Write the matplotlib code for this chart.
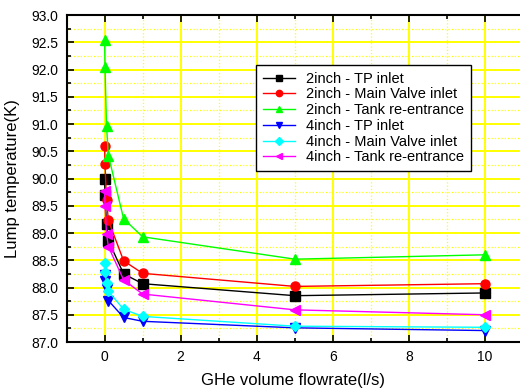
"""Lump temperature vs GHe volume flowrate, six pipe/location series."""

import matplotlib

matplotlib.use("Agg")
import matplotlib.pyplot as plt  # noqa: E402
from matplotlib.ticker import FormatStrFormatter, MultipleLocator  # noqa: E402

plt.rcParams["font.family"] = ["Liberation Sans", "DejaVu Sans"]

flowrate = [0, 0.01, 0.05, 0.1, 0.5, 1, 5, 10]

tp_2inch = [89.99, 89.70, 89.17, 88.86, 88.25, 88.07, 87.85, 87.90]
mv_2inch = [90.59, 90.27, 89.61, 89.23, 88.49, 88.26, 88.02, 88.07]
tank_2inch = [92.55, 92.05, 90.97, 90.42, 89.26, 88.93, 88.52, 88.60]
tp_4inch = [88.23, 88.12, 87.98, 87.76, 87.45, 87.38, 87.26, 87.21]
mv_4inch = [88.45, 88.28, 88.09, 87.93, 87.60, 87.47, 87.29, 87.27]
tank_4inch = [89.77, 89.50, 88.99, 88.75, 88.14, 87.88, 87.59, 87.50]

series = [
    ("2inch - TP inlet", tp_2inch, "black", "s"),
    ("2inch - Main Valve inlet", mv_2inch, "red", "o"),
    ("2inch - Tank re-entrance", tank_2inch, "#00ff00", "^"),
    ("4inch - TP inlet", tp_4inch, "blue", "v"),
    ("4inch - Main Valve inlet", mv_4inch, "cyan", "D"),
    ("4inch - Tank re-entrance", tank_4inch, "magenta", "<"),
]

fig = plt.figure(figsize=(5.2, 3.91), dpi=100)
ax = fig.add_axes([0.128, 0.1253, 0.872, 0.8363])

for label, values, color, marker in series:
    ms = 5.5 if marker == "D" else 6.5
    ax.plot(flowrate, values, color=color, marker=marker, markersize=ms,
            linewidth=1.0, label=label)

ax.set_xlim(-1, 10.92)
ax.set_ylim(87.0, 93.0)
ax.xaxis.set_major_locator(MultipleLocator(2))
ax.xaxis.set_minor_locator(MultipleLocator(1))
ax.yaxis.set_major_locator(MultipleLocator(0.5))
ax.yaxis.set_minor_locator(MultipleLocator(0.25))
ax.yaxis.set_major_formatter(FormatStrFormatter("%.1f"))

ax.grid(which="major", color="#ffff00", linewidth=1.4, linestyle="-")
ax.grid(which="minor", color="#ffff00", linewidth=0.9, linestyle=":")
ax.set_axisbelow(True)

ax.spines["right"].set_visible(False)
for side in ("left", "bottom", "top"):
    ax.spines[side].set_linewidth(1.5)
ax.tick_params(which="both", direction="in", top=True, right=False,
               labelsize=10, width=1.2)
ax.tick_params(which="major", length=5, pad=6)
ax.tick_params(which="minor", length=3)

ax.set_xlabel("GHe volume flowrate(l/s)", fontsize=12, labelpad=6)
ax.set_ylabel("Lump temperature(K)", fontsize=12, labelpad=8)

leg = ax.legend(loc="upper left", bbox_to_anchor=(0.418, 0.847), fontsize=10.5,
                markerscale=0.7, handlelength=2.2, fancybox=False,
                framealpha=1, edgecolor="black", borderpad=0.45,
                labelspacing=0.12, borderaxespad=0)
leg.get_frame().set_linewidth(1.0)

fig.savefig("out.png", dpi=100)
plt.close(fig)
